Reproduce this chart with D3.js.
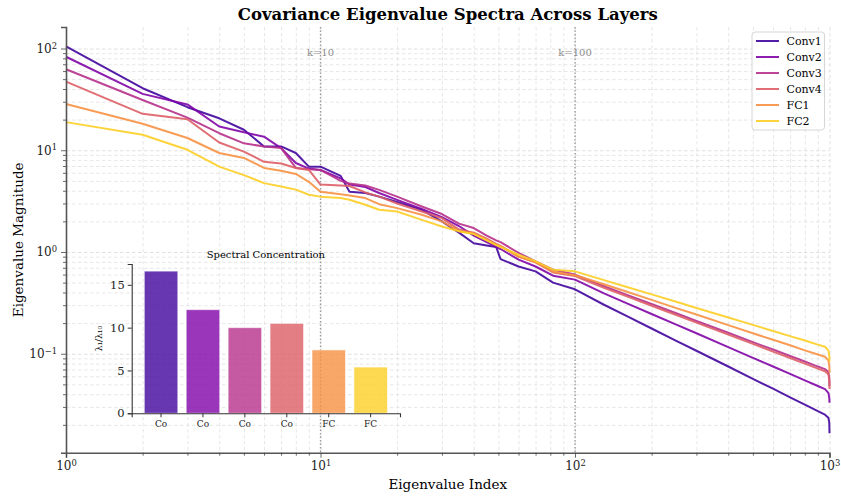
<!DOCTYPE html>
<html>
<head>
<meta charset="utf-8">
<script src="https://cdn.jsdelivr.net/npm/d3@7"></script>
<style>
	body { margin: 0; background: #fff; }
	svg { font-family: "DejaVu Serif", serif; }
</style>
</head>
<body>
<div class="chart"></div>
<script>
// layer names and inset bar values
var layers = ["Conv1", "Conv2", "Conv3", "Conv4", "FC1", "FC2"];
var shortNames = ["Co", "Co", "Co", "Co", "FC", "FC"];
var ratios = [16.6, 12.1, 10.0, 10.5, 7.4, 5.4];

// eigenvalue index of every point
var indices = [1, 2, 3, 4, 5, 6, 7, 8, 9, 10, 12, 13, 15, 17, 20, 25, 30, 35, 40, 45, 49, 51, 60, 70, 82, 100,
	130, 160, 200, 250, 300, 400, 500, 600, 700, 800, 900, 960, 990, 998, 1000];

var conv1 = [105, 40.7, 26.5, 20.6, 15.9, 10.9, 10.9, 9.4, 6.9, 6.9, 5.6, 3.9, 3.8, 3.5, 3.1, 2.6, 2.0, 1.55, 1.22, 1.16, 1.12, 0.85, 0.72, 0.645, 0.50, 0.43,
	0.303, 0.234, 0.177, 0.134, 0.107, 0.0749, 0.0567, 0.0453, 0.0373, 0.0316, 0.0273, 0.0252, 0.0235, 0.021, 0.0165];
var conv2 = [83, 35.8, 28.2, 17.1, 15.0, 13.6, 10.5, 7.5, 6.6, 6.4, 5.3, 4.6, 4.35, 3.8, 3.25, 2.65, 2.2, 1.8, 1.45, 1.25, 1.12, 1.07, 0.84, 0.72, 0.585, 0.535,
	0.392, 0.313, 0.246, 0.193, 0.159, 0.116, 0.0912, 0.0749, 0.0633, 0.0548, 0.0482, 0.0449, 0.0413, 0.037, 0.033];
var conv3 = [62.5, 31.2, 20.9, 14.7, 11.7, 10.9, 10.5, 6.7, 6.5, 6.4, 5.0, 4.7, 4.5, 4.08, 3.5, 2.8, 2.36, 1.9, 1.72, 1.45, 1.3, 1.25, 0.98, 0.81, 0.67, 0.60,
	0.462, 0.379, 0.308, 0.250, 0.210, 0.161, 0.130, 0.110, 0.0949, 0.0838, 0.0748, 0.0706, 0.066, 0.058, 0.048];
var conv4 = [47.2, 22.8, 20.2, 11.9, 9.7, 7.7, 7.4, 6.7, 6.4, 4.6, 4.5, 4.45, 3.85, 3.5, 3.0, 2.5, 2.15, 1.66, 1.55, 1.35, 1.2, 1.15, 0.9, 0.79, 0.63, 0.58,
	0.445, 0.366, 0.296, 0.240, 0.202, 0.154, 0.125, 0.105, 0.0907, 0.080, 0.0714, 0.0672, 0.063, 0.055, 0.045];
var fc1 = [28.5, 18.2, 13.2, 9.4, 8.4, 6.7, 6.3, 5.85, 4.9, 3.9, 3.7, 3.6, 3.39, 2.95, 2.7, 2.32, 2.0, 1.6, 1.52, 1.32, 1.18, 1.14, 0.9, 0.79, 0.64, 0.59,
	0.482, 0.406, 0.338, 0.281, 0.243, 0.191, 0.159, 0.137, 0.121, 0.108, 0.0982, 0.0933, 0.086, 0.076, 0.065];
var fc2 = [18.9, 14.2, 10.1, 6.9, 5.7, 4.75, 4.4, 4.1, 3.65, 3.5, 3.4, 3.26, 2.91, 2.6, 2.5, 2.07, 1.78, 1.6, 1.5, 1.3, 1.17, 1.12, 0.94, 0.81, 0.67, 0.645,
	0.529, 0.453, 0.383, 0.324, 0.282, 0.227, 0.192, 0.167, 0.149, 0.135, 0.123, 0.117, 0.108, 0.096, 0.084];
var spectra = [conv1, conv2, conv3, conv4, fc1, fc2];

// axis ticks and reference lines
var xTicks = [1, 10, 100, 1000];
var yTicks = [0.1, 1, 10, 100];
var markers = [10, 100];
var ratioTicks = [0, 5, 10, 15];

var W = 841, H = 497;
var margin = {top: 27, right: 11.5, bottom: 44.3, left: 66};
var w = W - margin.left - margin.right;
var h = H - margin.top - margin.bottom;

var colors = layers.map(function(d, i) { return d3.interpolatePlasma(0.1 + i * 0.16); });

var svg = d3.select(".chart").append("svg")
	.attr("width", W)
	.attr("height", H);

var g = svg.append("g").attr("transform", "translate(" + margin.left + "," + margin.top + ")");

// log y limits with 5% padding on the data, like matplotlib
var allVals = d3.merge(spectra);
var lo = Math.log10(d3.min(allVals)), hi = Math.log10(d3.max(allVals));
var pad = (hi - lo) * 0.05;

var x = d3.scaleLog().domain([1, 1000]).range([0, w]);
var y = d3.scaleLog().domain([Math.pow(10, lo - pad), Math.pow(10, hi + pad)]).range([h, 0]);

function minorTicks(scale) {
	var d = scale.domain(), out = [];
	for (var e = Math.floor(Math.log10(d[0])); e <= Math.ceil(Math.log10(d[1])); e++) {
		for (var m = 2; m <= 9; m++) {
			var v = m * Math.pow(10, e);
			if (v >= d[0] && v <= d[1]) out.push(v);
		}
	}
	return out;
}
var xMinor = minorTicks(x), yMinor = minorTicks(y);

// grid
function grid(axis, cls, color) {
	var gg = g.append("g").attr("class", cls).call(axis);
	gg.select(".domain").remove();
	gg.selectAll("line").attr("stroke", color).attr("stroke-width", 0.8).attr("stroke-dasharray", "3.5,2.5");
	gg.selectAll("text").remove();
	return gg;
}
grid(d3.axisLeft(y).tickValues(yMinor).tickSize(-w), "ygrid-minor", "#e1e1e1");
grid(d3.axisLeft(y).tickValues(yTicks).tickSize(-w), "ygrid", "#d8d8d8");
grid(d3.axisBottom(x).tickValues(xMinor).tickSize(h), "xgrid-minor", "#e1e1e1");
grid(d3.axisBottom(x).tickValues(xTicks).tickSize(h), "xgrid", "#d8d8d8");

// reference lines k=10, k=100
g.selectAll(".marker")
	.data(markers)
	.enter()
	.append("line")
	.attr("x1", function(d) { return x(d); })
	.attr("x2", function(d) { return x(d); })
	.attr("y1", 0)
	.attr("y2", h)
	.attr("stroke", "#999")
	.attr("stroke-width", 1.3)
	.attr("stroke-dasharray", "1.5,2");

g.selectAll(".marker-label")
	.data(markers)
	.enter()
	.append("text")
	.attr("x", function(d) { return x(d); })
	.attr("y", 29)
	.attr("text-anchor", "middle")
	.attr("font-size", 10)
	.attr("fill", "#8c8c8c")
	.text(function(d) { return "k=" + d; });

// spectra lines
var line = d3.line()
	.x(function(d) { return x(d[0]); })
	.y(function(d) { return y(d[1]); });

g.selectAll(".spectrum")
	.data(spectra)
	.enter()
	.append("path")
	.attr("d", function(s) { return line(s.map(function(v, i) { return [indices[i], v]; })); })
	.attr("fill", "none")
	.attr("stroke", function(d, i) { return colors[i]; })
	.attr("stroke-opacity", 0.9)
	.attr("stroke-width", 2)
	.attr("stroke-linejoin", "round");

// axes
function powerLabel(sel) {
	sel.selectAll(".tick text").each(function(d) {
		var e = Math.round(Math.log10(d));
		var t = d3.select(this).text("");
		t.append("tspan").text("10");
		t.append("tspan").attr("dy", "-0.5em").attr("font-size", "0.7em").text(e < 0 ? "\u2212" + Math.abs(e) : e);
	});
}

var xAxis = g.append("g").attr("transform", "translate(0," + h + ")")
	.call(d3.axisBottom(x).tickValues(xTicks).tickSize(5).tickPadding(4));
xAxis.call(powerLabel);
g.append("g").attr("transform", "translate(0," + h + ")")
	.call(d3.axisBottom(x).tickValues(xMinor).tickSize(3).tickFormat(""))
	.select(".domain").remove();

var yAxis = g.append("g").call(d3.axisLeft(y).tickValues(yTicks).tickSize(5).tickPadding(4));
yAxis.call(powerLabel);
g.append("g")
	.call(d3.axisLeft(y).tickValues(yMinor).tickSize(3).tickFormat(""))
	.select(".domain").remove();

g.selectAll(".domain").attr("stroke", "#555").attr("stroke-width", 1.6);
g.selectAll(".tick line").filter(function() { return !this.closest(".ygrid, .ygrid-minor, .xgrid, .xgrid-minor"); })
	.attr("stroke", "#444").attr("stroke-width", 0.8);
g.selectAll(".tick text").attr("font-size", 12).attr("fill", "#222").attr("font-family", "DejaVu Serif");

// titles
svg.append("text")
	.attr("x", margin.left + w / 2)
	.attr("y", 20)
	.attr("text-anchor", "middle")
	.attr("font-size", 16.5)
	.attr("font-weight", "bold")
	.text("Covariance Eigenvalue Spectra Across Layers");

svg.append("text")
	.attr("x", margin.left + w / 2)
	.attr("y", 489)
	.attr("text-anchor", "middle")
	.attr("font-size", 13.5)
	.text("Eigenvalue Index");

svg.append("text")
	.attr("transform", "translate(23," + (margin.top + h / 2) + ") rotate(-90)")
	.attr("text-anchor", "middle")
	.attr("font-size", 13.5)
	.text("Eigenvalue Magnitude");

// legend
var legend = svg.append("g").attr("transform", "translate(752,32)");
legend.append("rect")
	.attr("width", 72.5)
	.attr("height", 98)
	.attr("rx", 3)
	.attr("fill", "#fff")
	.attr("fill-opacity", 0.85)
	.attr("stroke", "#d6d6d6");
var items = legend.selectAll(".item")
	.data(layers)
	.enter()
	.append("g")
	.attr("transform", function(d, i) { return "translate(0," + (9 + i * 16) + ")"; });
items.append("line")
	.attr("x1", 4).attr("x2", 27)
	.attr("stroke", function(d, i) { return colors[i]; })
	.attr("stroke-opacity", 0.9)
	.attr("stroke-width", 2);
items.append("text")
	.attr("x", 34.5)
	.attr("dy", "0.35em")
	.attr("font-size", 11)
	.text(function(d) { return d; });

// inset bar chart
var inset = {left: 131.7, top: 264, w: 268.3, h: 149.3};
var ig = svg.append("g").attr("transform", "translate(" + inset.left + "," + inset.top + ")");

var bx = d3.scaleBand().domain(d3.range(ratios.length)).range([0, inset.w]).paddingInner(0.2).paddingOuter(0.3);
var by = d3.scaleLinear().domain([0, d3.max(ratios) * 1.05]).range([inset.h, 0]);

ig.selectAll("rect")
	.data(ratios)
	.enter()
	.append("rect")
	.attr("x", function(d, i) { return bx(i); })
	.attr("y", function(d) { return by(d); })
	.attr("width", bx.bandwidth())
	.attr("height", function(d) { return inset.h - by(d); })
	.attr("fill", function(d, i) { return colors[i]; })
	.attr("fill-opacity", 0.8)
	.attr("stroke", "#fff")
	.attr("stroke-opacity", 0.6)
	.attr("stroke-width", 1);

var ixAxis = ig.append("g").attr("transform", "translate(0," + inset.h + ")")
	.call(d3.axisBottom(bx).tickSize(4).tickPadding(3).tickFormat(function(d) { return shortNames[d]; }));
ixAxis.selectAll("text").attr("font-size", 9);
var iyAxis = ig.append("g")
	.call(d3.axisLeft(by).tickValues(ratioTicks).tickSize(4).tickPadding(3));
iyAxis.selectAll("text").attr("font-size", 11.5);
ig.selectAll(".domain").attr("stroke", "#333").attr("stroke-width", 1.1);
ig.selectAll(".tick line").attr("stroke", "#333");
ig.selectAll(".tick text").attr("fill", "#222").attr("font-family", "DejaVu Serif");

ig.append("text")
	.attr("x", inset.w / 2)
	.attr("y", -6)
	.attr("text-anchor", "middle")
	.attr("font-size", 10)
	.text("Spectral Concentration");

ig.append("text")
	.attr("transform", "translate(-30," + (inset.h / 2) + ") rotate(-90)")
	.attr("text-anchor", "middle")
	.attr("font-size", 9)
	.text("\u03bb\u2081/\u03bb\u2081\u2080");
</script>
</body>
</html>
